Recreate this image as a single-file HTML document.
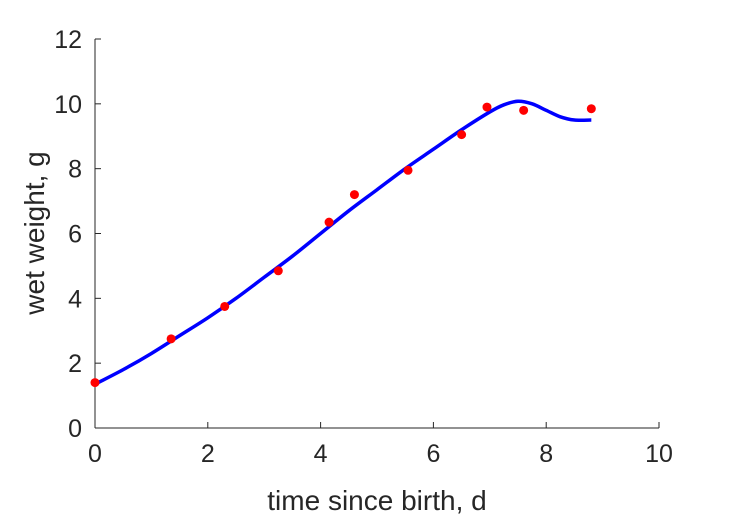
<!DOCTYPE html>
<html><head><meta charset="utf-8"><style>body{margin:0;background:#fff}svg{display:block;font-family:"Liberation Sans",sans-serif}</style></head>
<body>
<svg id="chart" width="729" height="521" viewBox="0 0 729 521">
<g id="axes"></g>
<g id="series"></g>
<text x="377" y="510" font-size="28" text-anchor="middle" fill="#262626">time since birth, d</text>
<text transform="translate(44,233) rotate(-90)" font-size="28" text-anchor="middle" fill="#262626">wet weight, g</text>
</svg>
<script>
const xTicks=[0,2,4,6,8,10];
const yTicks=[0,2,4,6,8,10,12];
const obsT=[0,1.35,2.3,3.25,4.15,4.6,5.55,6.5,6.95,7.6,8.8];
const obsW=[1.4,2.75,3.75,4.85,6.35,7.2,7.95,9.05,9.9,9.8,9.85];
const fitT=[0,0.5,1,1.5,2,2.5,3,3.5,4,4.5,5,5.5,6,6.5,7,7.25,7.5,7.75,8,8.25,8.5,8.8];
const fitW=[1.35,1.8,2.3,2.85,3.4,4.0,4.65,5.3,6.0,6.7,7.35,8.0,8.6,9.2,9.75,9.97,10.08,10.0,9.8,9.6,9.5,9.5];
const X0=95,X1=659,Y0=428,Y1=39;
const sx=v=>X0+(v-0)/(10-0)*(X1-X0);
const sy=v=>Y0-(v-0)/(12-0)*(Y0-Y1);
const NS="http://www.w3.org/2000/svg";
const ax=document.getElementById('axes'),se=document.getElementById('series');
function mk(t,a,p){const e=document.createElementNS(NS,t);for(const k in a)e.setAttribute(k,a[k]);p.appendChild(e);return e;}
let l=mk('line',{x1:X0,y1:Y0,x2:X1,y2:Y0,stroke:'#262626','stroke-width':1},ax);


l=mk('line',{x1:X0,y1:Y0,x2:X0,y2:Y1,stroke:'#262626','stroke-width':1},ax);


xTicks.forEach(v=>{const x=sx(v);
 const t=mk('line',{x1:x,y1:Y0,x2:x,y2:Y0-6,stroke:'#262626'},ax);
 
 
 const tx=mk('text',{x:x,y:Y0+34,'font-size':25,'text-anchor':'middle',fill:'#262626'},ax);tx.textContent=v;
 
 });
yTicks.forEach(v=>{const y=sy(v);
 const t=mk('line',{x1:X0,y1:y,x2:X0+6,y2:y,stroke:'#262626'},ax);
 
 
 const tx=mk('text',{x:X0-13,y:y+9,'font-size':25,'text-anchor':'end',fill:'#262626'},ax);tx.textContent=v;
 
 });
const P=fitT.map((t,i)=>[sx(t),sy(fitW[i])]);
let d='M'+P[0][0]+','+P[0][1];
for(let i=0;i<P.length-1;i++){const p0=P[Math.max(0,i-1)],p1=P[i],p2=P[i+1],p3=P[Math.min(P.length-1,i+2)];
 d+=' C'+(p1[0]+(p2[0]-p0[0])/6)+','+(p1[1]+(p2[1]-p0[1])/6)+' '+(p2[0]-(p3[0]-p1[0])/6)+','+(p2[1]-(p3[1]-p1[1])/6)+' '+p2[0]+','+p2[1];}
const path=mk('path',{d:d,fill:'none',stroke:'#0000ff','stroke-width':3.5},se);


obsT.forEach((t,i)=>{const c=mk('circle',{cx:sx(t),cy:sy(obsW[i]),r:4.5,fill:'#ff0000'},se);
 
 });
</script>
</body></html>
